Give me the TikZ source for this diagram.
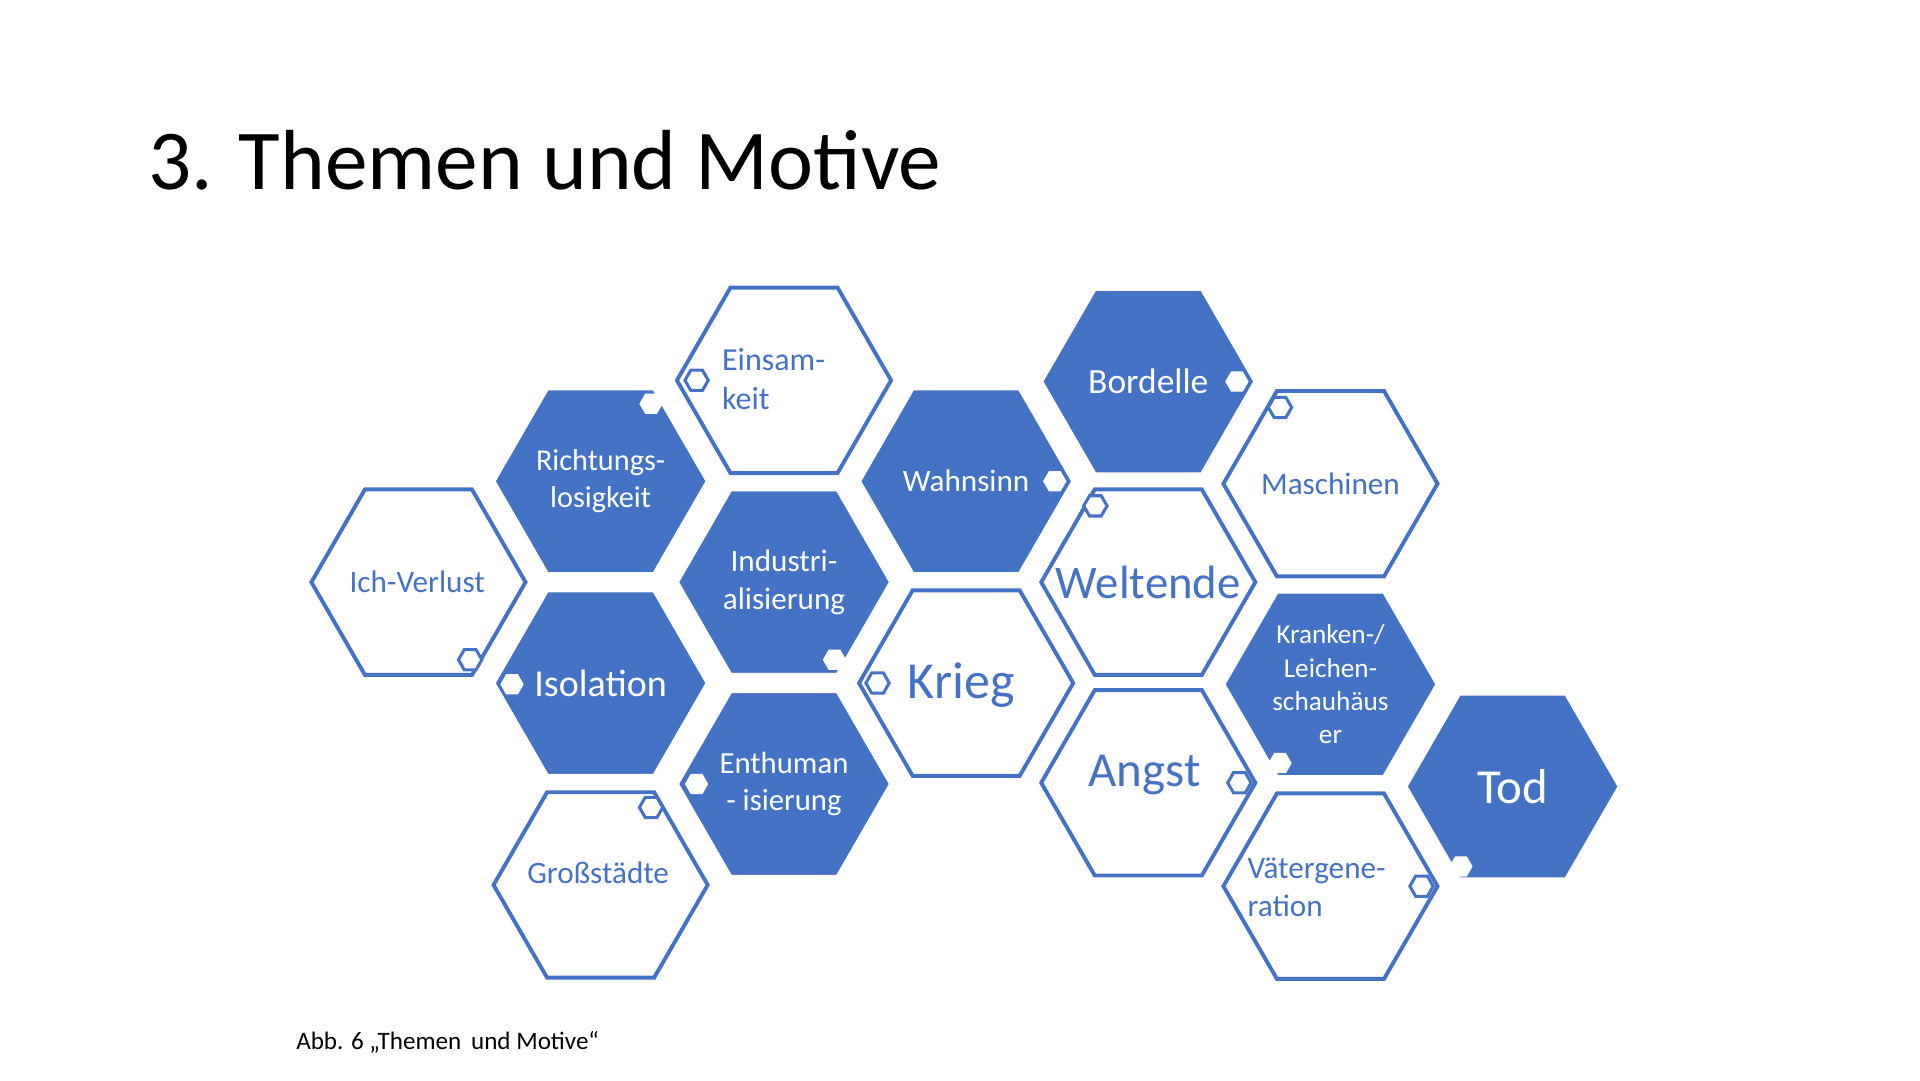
\documentclass[tikz,border=0pt]{standalone}
\usepackage{fontspec}
\setmainfont{Carlito}
\usetikzlibrary{shapes.geometric}
\definecolor{hb}{HTML}{4472C4}
\tikzset{
 hexw/.style={regular polygon,regular polygon sides=6,minimum size=174*0.01cm,draw=hb,line width=0.9pt,fill=white,inner sep=0pt},
 hexb/.style={hexw,fill=hb,draw=white},
 lw/.style={text=hb,align=center,inner sep=0pt},
 lb/.style={text=white,align=center,inner sep=0pt},
 mko/.style={regular polygon,regular polygon sides=6,minimum size=19*0.01cm,inner sep=0pt,draw=hb,fill=white,line width=0.7pt},
 mkf/.style={regular polygon,regular polygon sides=6,minimum size=19*0.01cm,inner sep=0pt,fill=white},
}
\newcommand{\fs}[1]{\fontsize{#1pt}{\dimexpr #1pt*122/100\relax}\selectfont}
\begin{document}
\begin{tikzpicture}[x=0.01cm,y=-0.01cm]
\useasboundingbox (0,0) rectangle (1560,877.5);
\node[anchor=base west,inner sep=0pt,font=\fs{19.7}] (title) at (120,154) {3. Themen und Motive};
\node[anchor=base west,inner sep=0pt,font=\fs{5.8}] (cap) at (240,853) {Abb. 6 „Themen\, und Motive“};
\node[hexw] (h1) at (637,309) {};
\node[hexb] (h2) at (488,391) {};
\node[hexw] (h3) at (340,473) {};
\node[hexb] (h4) at (637,473) {};
\node[hexb] (h5) at (488,555) {};
\node[hexb] (h6) at (637,637) {};
\node[hexw] (h7) at (488,719) {};
\node[hexb] (h8) at (785,391) {};
\node[hexw] (h9) at (785,555) {};
\node[hexb] (h10) at (933,310) {};
\node[hexw] (h11) at (933,473) {};
\node[hexw] (h12) at (933,636) {};
\node[hexw] (h13) at (1081,393) {};
\node[hexb] (h14) at (1081,556) {};
\node[hexw] (h15) at (1081,720) {};
\node[hexb] (h16) at (1229,639) {};
\node[lw,anchor=west,align=left,font=\fs{7.4}] (t1) at (586,308) {Einsam-\\keit};
\node[lb,font=\fs{7.0}] (t2) at (488,391) {Richtungs-\\losigkeit};
\node[lw,font=\fs{7.2}] (t3) at (339,473) {Ich-Verlust};
\node[lb,font=\fs{7.2}] (t4) at (637,473) {Industri-\\alisierung};
\node[lb,font=\fs{8.8}] (t5) at (488,555) {Isolation};
\node[lb,font=\fs{7.1}] (t6) at (637,637) {Enthuman\\- isierung};
\node[lw,font=\fs{7.2}] (t7) at (486,709) {Großstädte};
\node[lb,font=\fs{7.2}] (t8) at (785,391) {Wahnsinn};
\node[lw,font=\fs{12}] (t9) at (781,557) {Krieg};
\node[lb,font=\fs{8.2}] (t10) at (933,310) {Bordelle};
\node[lw,font=\fs{10.8}] (t11) at (933,473) {Weltende};
\node[lw,font=\fs{11.3}] (t12) at (930,630) {Angst};
\node[lw,font=\fs{7.2}] (t13) at (1081,393) {Maschinen};
\node[lb,font=\fs{6.3}] (t14) at (1081,556) {Kranken-/\\Leichen-\\schauhäus\\er};
\node[lw,anchor=west,align=left,font=\fs{7.2}] (t15) at (1013,721) {Vätergene-\\ration};
\node[lb,font=\fs{11.3}] (t16) at (1229,639) {Tod};
\node[mko] (m1) at (566,309) {};
\node[mkf] (m2) at (529,328) {};
\node[mko] (m3) at (382,536) {};
\node[mkf] (m4) at (678,536) {};
\node[mkf] (m5) at (416,556) {};
\node[mkf] (m6) at (566,637) {};
\node[mko] (m7) at (529,656) {};
\node[mkf] (m8) at (857,391) {};
\node[mko] (m9) at (713,555) {};
\node[mkf] (m10) at (1005,310) {};
\node[mko] (m11) at (890,411) {};
\node[mko] (m12) at (1007,636) {};
\node[mko] (m13) at (1040,331) {};
\node[mkf] (m14) at (1040,620) {};
\node[mko] (m15) at (1155,720) {};
\node[mkf] (m16) at (1187,704) {};
\end{tikzpicture}
\end{document}
